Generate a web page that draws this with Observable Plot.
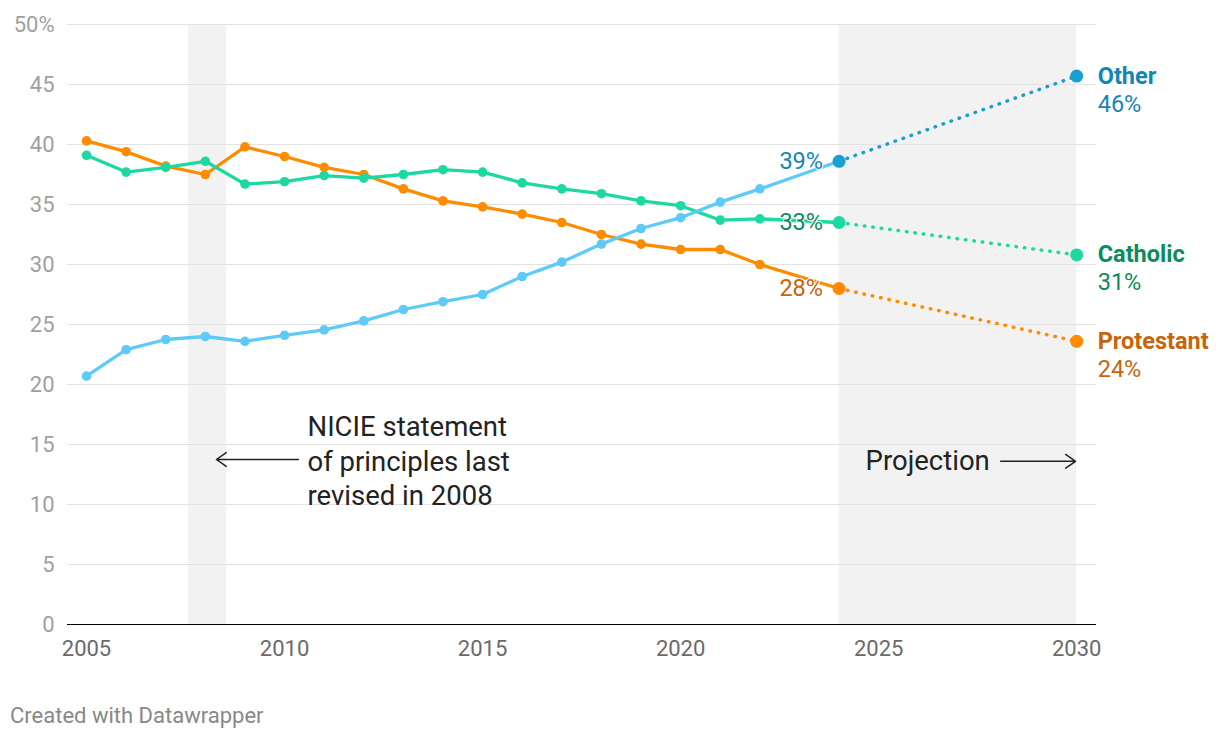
<!DOCTYPE html>
<html><head><meta charset="utf-8">
<script src="https://cdn.jsdelivr.net/npm/d3@7"></script>
<script src="https://cdn.jsdelivr.net/npm/@observablehq/plot@0.6"></script>
<style>
body{margin:0;background:#fff;font-family:Roboto,sans-serif;}
#chart{position:absolute;left:0;top:0;}
#caption{position:absolute;left:10px;top:703px;font-size:22px;line-height:26px;color:#888;font-family:Roboto,sans-serif;}
</style></head><body>
<div id="chart"></div>
<div id="caption">Created with Datawrapper</div>
<script>
// ---- data ----
const years = [2005,2006,2007,2008,2009,2010,2011,2012,2013,2014,2015,2016,2017,2018,2019,2020,2021,2022,2024];
const protestant = [40.3,39.4,38.2,37.5,39.8,39.0,38.1,37.5,36.3,35.3,34.8,34.2,33.5,32.5,31.7,31.25,31.25,30.0,28.0];
const catholic   = [39.1,37.7,38.1,38.6,36.7,36.9,37.4,37.2,37.5,37.9,37.7,36.8,36.3,35.9,35.3,34.9,33.7,33.8,33.5];
const other      = [20.7,22.9,23.75,24.0,23.6,24.1,24.55,25.3,26.25,26.9,27.5,29.0,30.2,31.7,33.0,33.9,35.2,36.3,38.6];
const projYears = [2024, 2030];
const projProtestant = [28.0, 23.6];
const projCatholic   = [33.5, 30.8];
const projOther      = [38.6, 45.7];
const seriesNames = ["Protestant","Catholic","Other"];
const lastLabels = ["28%","33%","39%"];
const projLabels = ["24%","31%","46%"];
const yTicks = [0,5,10,15,20,25,30,35,40,45,50];
const xTicks = [2005,2010,2015,2020,2025,2030];
const bands = [{x1:2007.58, x2:2008.54},{x1:2024, x2:2030}];

// ---- styles ----
const lineColor  = {Protestant:"#ff8c00", Catholic:"#1cd9a1", Other:"#5ecaf7"};
const projColor  = {Protestant:"#ff8c00", Catholic:"#1cd9a1", Other:"#1a9fd2"};
const textColor  = {Protestant:"#c6650c", Catholic:"#0b8c5c", Other:"#1585b6"};

const histValues = {Protestant:protestant, Catholic:catholic, Other:other};
const projValues = {Protestant:projProtestant, Catholic:projCatholic, Other:projOther};

const hist = seriesNames.flatMap(s => years.map((yr,i)=>({series:s, year:yr, value:histValues[s][i]})));
const proj = seriesNames.flatMap(s => projYears.map((yr,i)=>({series:s, year:yr, value:projValues[s][i]})));
const lastPts = seriesNames.map((s,i)=>({series:s, year:projYears[0], value:projValues[s][0], label:lastLabels[i]}));
const endPts = seriesNames.map((s,i)=>({series:s, year:projYears[1], value:projValues[s][1], label:projLabels[i]}));

const marks = [
  Plot.rect(bands, {x1:"x1", x2:"x2", y1:0, y2:50, fill:"#f2f2f2"}),
  Plot.gridY(yTicks, {stroke:"#e2e2e2", strokeOpacity:1, strokeWidth:1}),
  Plot.axisY(yTicks, {tickSize:0, tickPadding:13, tickFormat:d=> d===50 ? "50%" : String(d), color:"#a0a0a0", fontSize:22}),
  Plot.axisX(xTicks, {tickSize:0, tickPadding:16, tickFormat:d=>String(d), color:"#6a6a6a", fontSize:22}),
  Plot.ruleY([0], {stroke:"#000", strokeWidth:1.2}),
];
for (const s of seriesNames) {
  marks.push(Plot.line(proj.filter(d=>d.series===s), {x:"year", y:"value", stroke:projColor[s], strokeWidth:3.5, strokeDasharray:"0.5 8", strokeLinecap:"round"}));
}
for (const s of seriesNames) {
  const d = hist.filter(d=>d.series===s);
  marks.push(Plot.line(d, {x:"year", y:"value", stroke:lineColor[s], strokeWidth:3.3}));
  marks.push(Plot.dot(d, {x:"year", y:"value", fill:lineColor[s], r:4.8}));
}
for (const s of seriesNames) {
  marks.push(Plot.dot(lastPts.filter(d=>d.series===s), {x:"year", y:"value", fill:projColor[s], r:6.5}));
  marks.push(Plot.dot(endPts.filter(d=>d.series===s), {x:"year", y:"value", fill:projColor[s], r:6.5}));
  marks.push(Plot.text(lastPts.filter(d=>d.series===s), {x:"year", y:"value", text:"label", dx:-16, textAnchor:"end", fill:textColor[s], fontSize:23.5, stroke:"white", strokeWidth:2, paintOrder:"stroke"}));
  marks.push(Plot.text(endPts.filter(d=>d.series===s), {x:"year", y:"value", text:"series", dx:21, textAnchor:"start", fill:textColor[s], fontSize:23.5, fontWeight:"bold"}));
  marks.push(Plot.text(endPts.filter(d=>d.series===s), {x:"year", y:"value", text:"label", dx:21, dy:28, textAnchor:"start", fill:textColor[s], fontSize:23.5}));
}
// annotations
marks.push(Plot.text(["NICIE statement\nof principles last\nrevised in 2008"], {x:2010.58, y:13.75, textAnchor:"start", fontSize:27.5, lineHeight:1.25, fill:"#222"}));
marks.push(Plot.arrow([{x1:2010.35, x2:2008.28, y:13.75}], {x1:"x1", x2:"x2", y1:"y", y2:"y", stroke:"#222", strokeWidth:1.5, headLength:12, headAngle:70}));
marks.push(Plot.text(["Projection"], {x:2024.67, y:13.6, textAnchor:"start", fontSize:27.5, fill:"#222"}));
marks.push(Plot.arrow([{x1:2028.08, x2:2029.97, y:13.6}], {x1:"x1", x2:"x2", y1:"y", y2:"y", stroke:"#222", strokeWidth:1.5, headLength:12, headAngle:70}));

const chart = Plot.plot({
  width:1220, height:664,
  marginLeft:67, marginRight:124, marginTop:24, marginBottom:40,
  x:{domain:[2004.52, 2030.5]},
  y:{domain:[0,50]},
  style:{fontFamily:"Roboto, sans-serif", fontSize:"20px", background:"#fff", overflow:"visible"},
  marks
});
document.getElementById("chart").appendChild(chart);
</script>
</body></html>
